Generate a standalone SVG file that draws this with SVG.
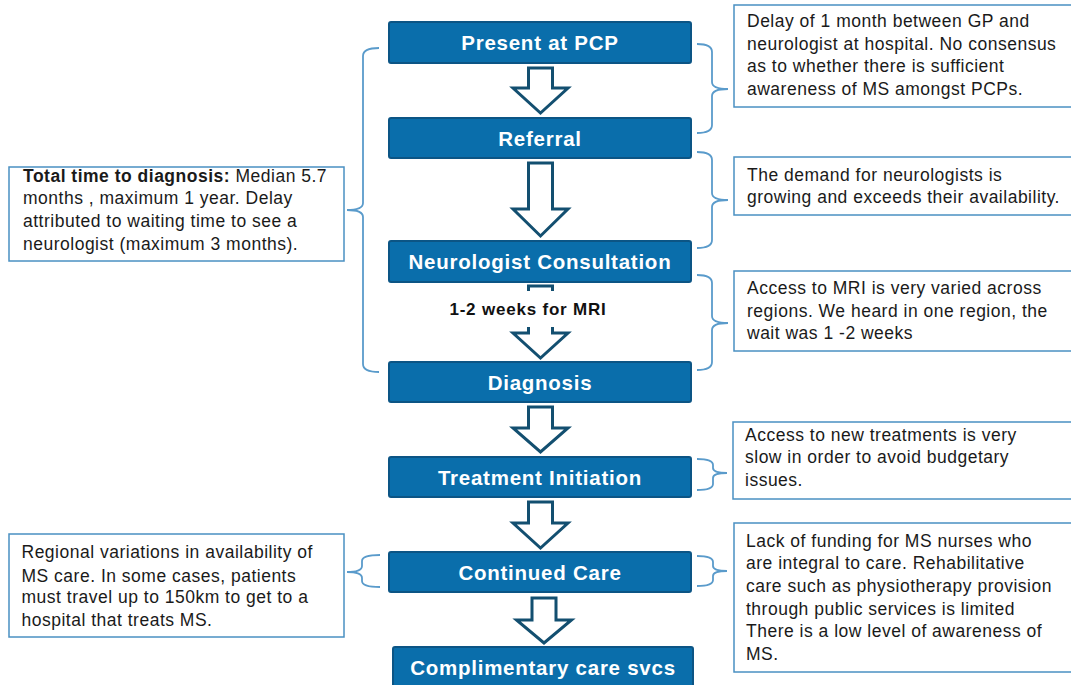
<svg xmlns="http://www.w3.org/2000/svg" width="1071" height="685" viewBox="0 0 1071 685">
<style>
.step{fill:#0a6eab;stroke:#0c5585;stroke-width:2}
.lbl{font-family:"Liberation Sans",Arial,sans-serif;font-weight:bold;font-size:20.5px;letter-spacing:0.75px;fill:#ffffff;text-anchor:middle}
.note{fill:#ffffff;stroke:#4a90c2;stroke-width:1.5}
.nt{font-family:"Liberation Sans",Arial,sans-serif;font-size:17.5px;letter-spacing:0.5px;fill:#1a1a1a}
.arr{fill:#ffffff;stroke:#134f70;stroke-width:3;stroke-linejoin:miter}
.arrp{fill:none;stroke:#134f70;stroke-width:3}
.br{fill:none;stroke:#5a9bcb;stroke-width:1.8}
.mri{font-family:"Liberation Sans",Arial,sans-serif;font-weight:bold;font-size:17px;letter-spacing:0.8px;fill:#111111;text-anchor:middle}
</style>
<rect width="1071" height="685" fill="#ffffff"/>

<g id="connectors">
  <path class="arr" d="M528.5 68 L552.5 68 L552.5 88 L568 88 L540.5 113 L513 88 L528.5 88 Z"/>
  <path class="arr" d="M528.5 163 L552.5 163 L552.5 209 L568 209 L540.5 236 L513 209 L528.5 209 Z"/>
  <path class="arrp" d="M528.5 291 L528.5 286 L552.5 286 L552.5 291"/>
  <path class="arr" d="M528.5 327 L528.5 333 L513 333 L540.5 358 L568 333 L552.5 333 L552.5 327"/>
  <path class="arr" d="M528.5 407 L552.5 407 L552.5 428 L568 428 L540.5 452 L513 428 L528.5 428 Z"/>
  <path class="arr" d="M528.5 502 L552.5 502 L552.5 523 L568 523 L540.5 548 L513 523 L528.5 523 Z"/>
  <path class="arr" d="M532 598 L556 598 L556 620 L571.5 620 L544 643 L516.5 620 L532 620 Z"/>
  <text class="mri" x="528" y="315">1-2 weeks for MRI</text>
  <path class="br" d="M379 48 Q363 48 363 56 L363 203 Q363 210 347 210 Q363 210 363 217 L363 364 Q363 372 379 372"/>
  <path class="br" d="M697 44 Q712 44 712 52 L712 82 Q712 89 728 89 Q712 89 712 96 L712 125 Q712 133 697 133"/>
  <path class="br" d="M697 152 Q712 152 712 160 L712 193 Q712 200 728 200 Q712 200 712 207 L712 240 Q712 248 697 248"/>
  <path class="br" d="M697 275 Q712 275 712 283 L712 316 Q712 323 728 323 Q712 323 712 330 L712 362 Q712 370 697 370"/>
  <path class="br" d="M697 459 Q713 459 713 465 L713 468 Q713 473 727 473 Q713 473 713 478 L713 484 Q713 490 697 490"/>
  <path class="br" d="M697 556 Q713 556 713 562 L713 566 Q713 571 727 571 Q713 571 713 576 L713 580 Q713 586 697 586"/>
  <path class="br" d="M380 555 Q362 555 362 561 L362 566 Q362 572 347 572 Q362 572 362 578 L362 581 Q362 587 380 587"/>
</g>

<g id="step-present">
  <rect class="step" x="389" y="22" width="302" height="41" rx="2"/>
  <text class="lbl" x="540" y="50">Present at PCP</text>
</g>
<g id="step-referral">
  <rect class="step" x="389" y="118" width="302" height="40" rx="2"/>
  <text class="lbl" x="540" y="145.5">Referral</text>
</g>
<g id="step-neuro">
  <rect class="step" x="389" y="241" width="302" height="41" rx="2"/>
  <text class="lbl" x="540" y="268.5">Neurologist Consultation</text>
</g>
<g id="step-diagnosis">
  <rect class="step" x="389" y="362" width="302" height="40" rx="2"/>
  <text class="lbl" x="540" y="389.5">Diagnosis</text>
</g>
<g id="step-treatment">
  <rect class="step" x="389" y="457" width="302" height="40" rx="2"/>
  <text class="lbl" x="540" y="484.5">Treatment Initiation</text>
</g>
<g id="step-continued">
  <rect class="step" x="389" y="552" width="302" height="40" rx="2"/>
  <text class="lbl" x="540" y="579.5">Continued Care</text>
</g>
<g id="step-complimentary">
  <rect class="step" x="393" y="647" width="300" height="44" rx="2"/>
  <text class="lbl" x="543" y="674.5">Complimentary care svcs</text>
</g>

<g id="note-pcp">
  <rect class="note" x="734" y="5" width="345" height="102"/>
  <text class="nt" x="747" y="27">Delay of 1 month between GP and</text>
  <text class="nt" x="747" y="49.5">neurologist at hospital. No consensus</text>
  <text class="nt" x="747" y="72">as to whether there is sufficient</text>
  <text class="nt" x="747" y="94.5">awareness of MS amongst PCPs.</text>
</g>
<g id="note-demand">
  <rect class="note" x="734" y="157" width="345" height="58"/>
  <text class="nt" x="747" y="180.7">The demand for neurologists is</text>
  <text class="nt" x="747" y="203.3">growing and exceeds their availability.</text>
</g>
<g id="note-mri">
  <rect class="note" x="734" y="271" width="345" height="80"/>
  <text class="nt" x="747" y="294">Access to MRI is very varied across</text>
  <text class="nt" x="747" y="316.7">regions. We heard in one region, the</text>
  <text class="nt" x="747" y="339.3">wait was 1 -2 weeks</text>
</g>
<g id="note-treatment">
  <rect class="note" x="733" y="422" width="346" height="77"/>
  <text class="nt" x="745" y="440.7">Access to new treatments is very</text>
  <text class="nt" x="745" y="463.3">slow in order to avoid budgetary</text>
  <text class="nt" x="745" y="485.7">issues.</text>
</g>
<g id="note-funding">
  <rect class="note" x="734" y="523" width="345" height="149"/>
  <text class="nt" x="746" y="546.7">Lack of funding for MS nurses who</text>
  <text class="nt" x="746" y="569.3">are integral to care. Rehabilitative</text>
  <text class="nt" x="746" y="592">care such as physiotherapy provision</text>
  <text class="nt" x="746" y="614.7">through public services is limited</text>
  <text class="nt" x="746" y="637.3">There is a low level of awareness of</text>
  <text class="nt" x="746" y="660">MS.</text>
</g>
<g id="note-total">
  <rect class="note" x="9" y="167" width="335" height="94"/>
  <text class="nt" x="23" y="181.7"><tspan font-weight="bold">Total time to diagnosis:</tspan> Median 5.7</text>
  <text class="nt" x="23" y="204.3">months , maximum 1 year. Delay</text>
  <text class="nt" x="23" y="227.3">attributed to waiting time to see a</text>
  <text class="nt" x="23" y="250">neurologist (maximum 3 months).</text>
</g>
<g id="note-regional">
  <rect class="note" x="9" y="534" width="335" height="103"/>
  <text class="nt" x="21.5" y="558.3">Regional variations in availability of</text>
  <text class="nt" x="21.5" y="581.7">MS care. In some cases, patients</text>
  <text class="nt" x="21.5" y="603.3">must travel up to 150km to get to a</text>
  <text class="nt" x="21.5" y="626">hospital that treats MS.</text>
</g>
</svg>
